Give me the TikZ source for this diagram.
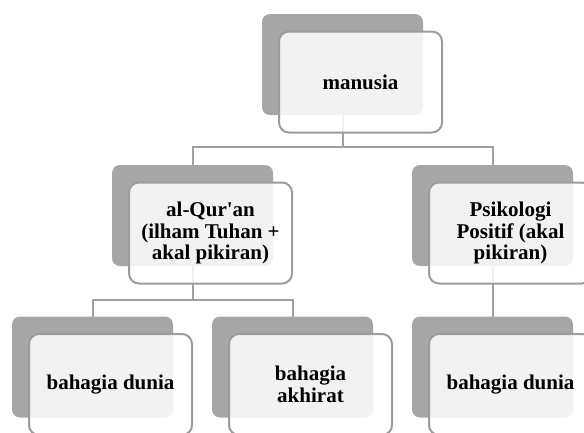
\documentclass[tikz,border=0pt]{standalone}
\usepackage{fontspec}
\setmainfont{Liberation Serif}[Ligatures=TeXOff]
\usetikzlibrary{calc}
\definecolor{shade}{HTML}{A6A6A6}
\definecolor{rim}{HTML}{9C9C9C}
\definecolor{link}{HTML}{A0A0A0}
\begin{document}
\begin{tikzpicture}[x=1pt,y=-1pt,
  back/.style={fill=shade,draw=none,rounded corners=8pt,
    minimum width=161pt,minimum height=101pt,inner sep=0pt,outer sep=0pt},
  card/.style={fill=white,fill opacity=0.86,text opacity=1,draw=rim,
    line width=2pt,rounded corners=10pt,minimum width=163pt,minimum height=101pt,
    inner sep=0pt,outer sep=0pt,align=center,
    font=\fontsize{21}{21.7}\selectfont\bfseries},
  wire/.style={draw=link,line width=2pt}]
\useasboundingbox (0,0) rectangle (584,432);
\clip (0,0) rectangle (584,432);

% shaded backing panels
\node[back] (manB) at (342.5,64.5) {};
\node[back] (quranB) at (192.5,215.5) {};
\node[back] (psiB) at (492.5,215.5) {};
\node[back] (dunB) at (92.5,367) {};
\node[back] (akhB) at (292.5,367) {};
\node[back] (dun2B) at (492.5,367) {};

% tree connectors
\draw[wire] (manB.south) -- ++(0,32) coordinate (j1) -| (quranB.north);
\draw[wire] (j1) -| (psiB.north);
\draw[wire] (quranB.south) -- ++(0,34) coordinate (j2) -| (dunB.north);
\draw[wire] (j2) -| (akhB.north);
\draw[wire] (psiB.south) -- (dun2B.north);

% front cards with labels
\node[card] (man) at ($(manB)+(18,17.5)$) {manusia};
\node[card] (quran) at ($(quranB)+(18,17.5)$) {al-Qur'an\\(ilham Tuhan +\\akal pikiran)};
\node[card] (psi) at ($(psiB)+(18,17.5)$) {Psikologi\\Positif (akal\\pikiran)};
\node[card] (dun) at ($(dunB)+(18,17.5)$) {bahagia dunia};
\node[card] (akh) at ($(akhB)+(18,17.5)$) {bahagia\\akhirat};
\node[card] (dun2) at ($(dun2B)+(18,17.5)$) {bahagia dunia};
\end{tikzpicture}
\end{document}
